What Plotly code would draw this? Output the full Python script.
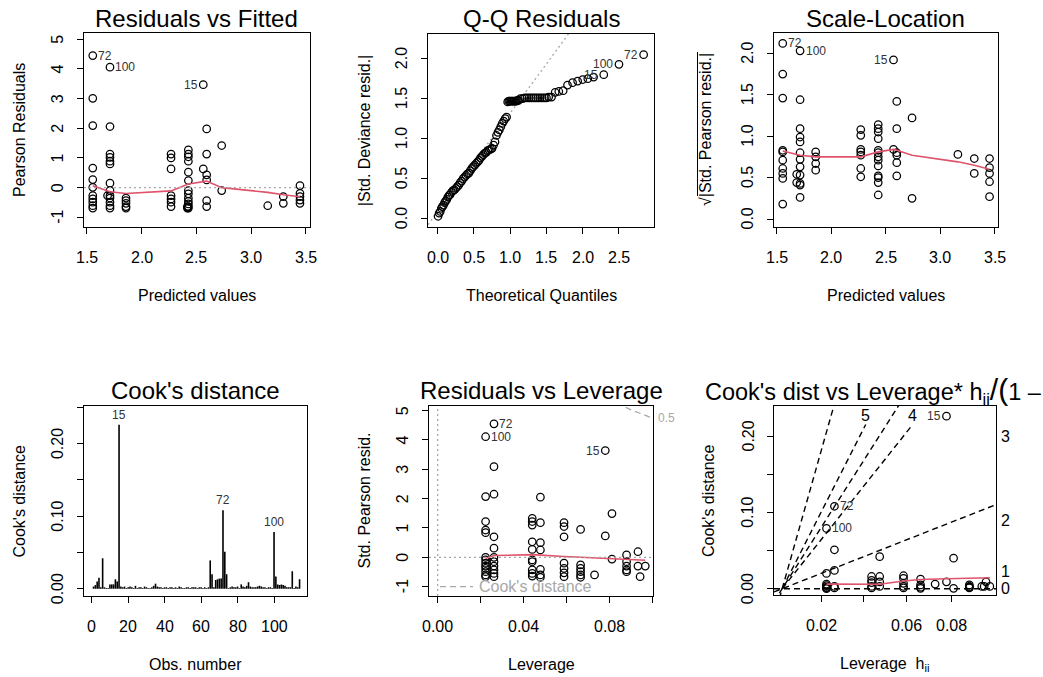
import numpy as np
import plotly.graph_objects as go

W, H = 1043, 677
FONT = "Liberation Sans, Arial, Helvetica, sans-serif"
RED = "#DF536B"
GREY = "#A8A8A8"
LBL = "#333333"

# ------------------------------------------------------------------ data
# Panel 1: Residuals vs Fitted
p1_fitted = [1.555, 1.555, 1.555, 1.555, 1.555, 1.555, 1.555, 1.555, 1.555, 1.555, 1.555,
             1.712, 1.712, 1.712, 1.712, 1.712, 1.712, 1.712, 1.712, 1.712, 1.712, 1.712, 1.712, 1.712,
             1.690,
             1.858, 1.858, 1.858, 1.858, 1.858,
             2.269, 2.269, 2.269, 2.269, 2.269, 2.269, 2.269,
             2.427, 2.427, 2.427, 2.427, 2.427, 2.427, 2.427, 2.427, 2.427, 2.427, 2.427, 2.427, 2.427,
             2.418, 2.418,
             2.563, 2.563,
             2.594, 2.594, 2.594, 2.594, 2.594, 2.594,
             2.731, 2.731,
             3.151,
             3.293, 3.293,
             3.445, 3.445, 3.445, 3.445, 3.445]
p1_resid = [4.45, 3.01, 2.09, 0.66, 0.27, 0.01, -0.27, -0.38, -0.49, -0.61, -0.69,
            4.06, 2.06, 1.13, 1.02, 0.89, 0.80, 0.15, -0.10, -0.27, -0.35, -0.49, -0.61, -0.69,
            -0.27,
            -0.35, -0.44, -0.53, -0.64, -0.69,
            1.13, 1.00, 0.63, -0.27, -0.38, -0.49, -0.64,
            1.27, 1.13, 1.04, 0.89, 0.52, 0.24, -0.10, -0.21, -0.35, -0.46, -0.55, -0.64, -0.69,
            -0.64, -0.69,
            3.47, 0.63,
            1.98, 1.13, 0.43, 0.26, -0.44, -0.64,
            1.42, -0.10,
            -0.61,
            -0.30, -0.53,
            0.07, -0.19, -0.30, -0.42, -0.53]
p1_smooth_x = [1.555, 1.712, 1.858, 2.269, 2.427, 2.563, 2.594, 2.731, 3.151, 3.293, 3.445]
p1_smooth_y = [0.06, -0.14, -0.20, -0.11, 0.12, 0.22, 0.22, 0.00, -0.16, -0.24, -0.31]
p1_lab = ["72", "100", "15"]
p1_lab_x = [1.555, 1.712, 2.563]
p1_lab_y = [4.45, 4.06, 3.47]

# Panel 2: Q-Q Residuals (half-normal)
p2_theo = [0.005, 0.02, 0.035, 0.05, 0.065, 0.08, 0.095, 0.11, 0.125, 0.14, 0.155, 0.17,
           0.19, 0.21, 0.23, 0.25, 0.27, 0.29, 0.31, 0.33, 0.35, 0.37, 0.39, 0.41, 0.43, 0.45,
           0.47, 0.49, 0.51, 0.53, 0.55, 0.57, 0.59, 0.61, 0.63, 0.65, 0.67, 0.69, 0.71, 0.73,
           0.75, 0.77, 0.79, 0.81, 0.83, 0.85, 0.87, 0.89, 0.91, 0.93, 0.95,
           0.965, 0.98, 0.995, 1.01, 1.025, 1.04, 1.055, 1.07, 1.085, 1.10, 1.115,
           1.14, 1.17, 1.20, 1.23, 1.26, 1.29, 1.32, 1.35, 1.38, 1.41, 1.44, 1.47, 1.50, 1.53, 1.57,
           1.62, 1.67, 1.73, 1.79, 1.86, 1.93, 2.00, 2.07, 2.15, 2.29, 2.50, 2.84]
p2_absres = [0.03, 0.07, 0.09, 0.13, 0.15, 0.17, 0.20, 0.22, 0.24, 0.27, 0.29, 0.30,
             0.33, 0.35, 0.36, 0.38, 0.40, 0.42, 0.45, 0.47, 0.50, 0.52, 0.54, 0.56, 0.57, 0.60,
             0.63, 0.65, 0.67, 0.69, 0.71, 0.73, 0.76, 0.78, 0.80, 0.82, 0.83, 0.85, 0.86, 0.87,
             0.88, 0.92, 0.96, 1.04, 1.08, 1.11, 1.15, 1.19, 1.22, 1.25, 1.27,
             1.46, 1.47, 1.47, 1.47, 1.47, 1.47, 1.47, 1.47, 1.47, 1.48, 1.48,
             1.50, 1.50, 1.51, 1.51, 1.51, 1.51, 1.51, 1.51, 1.51, 1.51, 1.51, 1.51, 1.51, 1.52, 1.52,
             1.58, 1.59, 1.60, 1.67, 1.70, 1.72, 1.74, 1.75, 1.77, 1.80, 1.93, 2.05]
p2_qq_intercept = 0.09
p2_qq_slope = 1.23
p2_lab = ["72", "100", "15"]
p2_lab_x = [2.84, 2.50, 2.29]
p2_lab_y = [2.05, 1.93, 1.80]

# Panel 3: Scale-Location
p3_fitted = [1.555, 1.555, 1.555, 1.555, 1.555, 1.555, 1.555, 1.555, 1.555, 1.555,
             1.714, 1.714, 1.714, 1.714, 1.714, 1.714, 1.714, 1.714, 1.714, 1.714, 1.714, 1.714,
             1.683, 1.683,
             1.857, 1.857, 1.857, 1.857,
             2.270, 2.270, 2.270, 2.270, 2.270, 2.270, 2.270,
             2.430, 2.430, 2.430, 2.430, 2.430, 2.430, 2.430, 2.430, 2.430, 2.430, 2.430, 2.430, 2.430,
             2.570, 2.570,
             2.600, 2.600, 2.600, 2.600, 2.600, 2.600,
             2.740, 2.740,
             3.160,
             3.310, 3.310,
             3.450, 3.450, 3.450, 3.450, 3.450]
p3_sqrtres = [2.12, 1.75, 1.46, 0.83, 0.81, 0.71, 0.61, 0.55, 0.49, 0.18,
              2.03, 1.44, 1.09, 0.99, 0.93, 0.80, 0.72, 0.63, 0.53, 0.43, 0.41, 0.26,
              0.54, 0.44,
              0.81, 0.75, 0.67, 0.59,
              1.08, 1.01, 0.84, 0.81, 0.77, 0.61, 0.51,
              1.14, 1.09, 1.05, 0.97, 0.83, 0.80, 0.75, 0.71, 0.64, 0.52, 0.50, 0.44, 0.29,
              1.92, 0.84,
              1.42, 1.09, 0.80, 0.77, 0.68, 0.52,
              1.22, 0.25,
              0.78,
              0.73, 0.55,
              0.73, 0.62, 0.55, 0.45, 0.27]
p3_smooth_x = [1.555, 1.714, 1.857, 2.270, 2.430, 2.570, 2.600, 2.740, 3.160, 3.310, 3.450]
p3_smooth_y = [0.82, 0.77, 0.75, 0.75, 0.81, 0.84, 0.83, 0.77, 0.69, 0.65, 0.60]
p3_lab = ["72", "100", "15"]
p3_lab_x = [1.555, 1.714, 2.570]
p3_lab_y = [2.12, 2.03, 1.92]

# Panel 4: Cook's distance by observation
p4_obs = list(range(1, 115))
p4_cook = [0.003, 0.005, 0.010, 0.015, 0.002, 0.042, 0.002, 0.001, 0.001, 0.006,
           0.006, 0.006, 0.013, 0.010, 0.226, 0.003, 0.002, 0.003, 0.001, 0.002,
           0.003, 0.002, 0.001, 0.004, 0.001, 0.002, 0.002, 0.001, 0.003, 0.002,
           0.001, 0.001, 0.002, 0.004, 0.007, 0.003, 0.002, 0.002, 0.001, 0.002,
           0.002, 0.001, 0.002, 0.002, 0.001, 0.002, 0.001, 0.003, 0.002, 0.001,
           0.001, 0.002, 0.002, 0.001, 0.002, 0.002, 0.002, 0.001, 0.002, 0.002,
           0.001, 0.002, 0.001, 0.002, 0.039, 0.020, 0.002, 0.012, 0.013, 0.014,
           0.014, 0.108, 0.051, 0.020, 0.001, 0.002, 0.003, 0.002, 0.002, 0.003,
           0.001, 0.006, 0.003, 0.002, 0.004, 0.009, 0.003, 0.002, 0.002, 0.002,
           0.003, 0.004, 0.003, 0.002, 0.002, 0.001, 0.002, 0.002, 0.001, 0.078,
           0.017, 0.006, 0.005, 0.006, 0.005, 0.004, 0.002, 0.002, 0.002, 0.024,
           0.001, 0.003, 0.002, 0.013]
p4_lab = ["15", "72", "100"]
p4_lab_x = [15, 72, 100]
p4_lab_y = [0.226, 0.108, 0.078]

# Panel 5: Residuals vs Leverage
p5_lev = [0.0223, 0.0223, 0.0223, 0.0223, 0.0223, 0.0223, 0.0223, 0.0223, 0.0223,
          0.0223, 0.0223, 0.0223, 0.0223,
          0.0262, 0.0262, 0.0262, 0.0262, 0.0262, 0.0262, 0.0262, 0.0262, 0.0262, 0.0262, 0.0262,
          0.0440, 0.0440, 0.0440, 0.0440, 0.0440, 0.0440, 0.0440, 0.0440, 0.0440, 0.0440,
          0.0478, 0.0478, 0.0478, 0.0478, 0.0478, 0.0478, 0.0478,
          0.0588, 0.0588, 0.0588, 0.0588, 0.0588, 0.0588, 0.0588,
          0.0665, 0.0665, 0.0665, 0.0665, 0.0665, 0.0665,
          0.0730,
          0.0780, 0.0780,
          0.0811, 0.0811,
          0.0879, 0.0879, 0.0879, 0.0879, 0.0879,
          0.0932, 0.0932,
          0.0942,
          0.0966]
p5_stdres = [4.11, 2.07, 1.22, 0.93, 0.84, 0.00, -0.09, -0.20, -0.30, -0.38, -0.49, -0.60, -0.66,
             4.55, 3.09, 2.15, 0.70, 0.31, 0.00, -0.15, -0.30, -0.43, -0.55, -0.66,
             1.33, 1.22, 1.10, 0.53, 0.27, -0.09, -0.15, -0.43, -0.55, -0.64,
             2.05, 1.18, 0.50, 0.25, -0.41, -0.60, -0.68,
             1.18, 1.05, 0.70, -0.20, -0.38, -0.53, -0.66,
             0.95, -0.26, -0.38, -0.49, -0.60, -0.68,
             -0.60,
             3.64, 0.73,
             1.49, -0.06,
             0.08, -0.15, -0.30, -0.43, -0.49,
             0.19, -0.30,
             -0.66,
             -0.30]
p5_smooth_x = [0.0223, 0.0262, 0.0440, 0.0478, 0.0588, 0.0665, 0.0780, 0.0879, 0.0966]
p5_smooth_y = [-0.04, 0.06, 0.09, 0.08, 0.03, 0.00, -0.03, -0.06, -0.10]
p5_cook_level = 0.5
p5_rank = 5
p5_lab = ["72", "100", "15"]
p5_lab_x = [0.0262, 0.0223, 0.0780]
p5_lab_y = [4.55, 4.11, 3.64]

# Panel 6: Cook's dist vs Leverage h/(1-h)
p6_lev = [0.0223, 0.0223, 0.0223, 0.0223, 0.0223, 0.0223, 0.0223,
          0.0262, 0.0262, 0.0262, 0.0262, 0.0262,
          0.0440, 0.0440, 0.0440, 0.0440, 0.0440,
          0.0478, 0.0478, 0.0478, 0.0478,
          0.0588, 0.0588, 0.0588, 0.0588, 0.0588,
          0.0665, 0.0665, 0.0665, 0.0665,
          0.0730,
          0.0780, 0.0780,
          0.0811, 0.0811,
          0.0879, 0.0879, 0.0879, 0.0879,
          0.0932, 0.0950,
          0.0942,
          0.0966]
p6_cook = [0.079, 0.020, 0.006, 0.004, 0.002, 0.001, 0.000,
           0.108, 0.051, 0.024, 0.003, 0.001,
           0.016, 0.011, 0.008, 0.003, 0.001,
           0.042, 0.016, 0.009, 0.003,
           0.017, 0.0135, 0.007, 0.003, 0.001,
           0.0125, 0.005, 0.002, 0.0005,
           0.006,
           0.226, 0.009,
           0.040, 0.0005,
           0.003, 0.005, 0.002, 0.001,
           0.003, 0.009,
           0.003,
           0.003]
p6_smooth_lev = [0.0223, 0.0262, 0.0440, 0.0478, 0.0588, 0.0665, 0.0780, 0.0879, 0.0966]
p6_smooth_cook = [0.006, 0.006, 0.0055, 0.0058, 0.010, 0.012, 0.013, 0.0138, 0.0144]
p6_contours = [0, 1, 2, 3, 4, 5]
p6_rank = 5
p6_axis_lev = [0.02, 0.04, 0.06, 0.08]
p6_axis_text = ["0.02", "", "0.06", "0.08"]
p6_lab = ["15", "72", "100"]
p6_lab_lev = [0.0780, 0.0262, 0.0223]
p6_lab_cook = [0.226, 0.108, 0.079]

# ------------------------------------------------------------------ layout helpers
def fx(px):
    return px / W


def fy(py):
    return 1 - py / H


def a(n):
    return "" if n == 1 else str(n)


BOX = {1: (84, 309.5, 33, 227), 2: (428, 654, 33.5, 227), 3: (774, 997.5, 33, 227),
       4: (84, 306.5, 406, 596), 5: (429, 653, 406, 596), 6: (774, 996, 406, 595)}
XR = {1: [1.475, 3.532], 2: [-0.134, 2.983], 3: [1.475, 3.523],
      4: [-4.22, 117.8], 5: [-0.00404, 0.1002], 6: [-0.00422, 0.1101]}
YR = {1: [-1.327, 5.212], 2: [-0.104, 2.315], 3: [-0.0966, 2.2455],
      4: [-0.010, 0.2517], 5: [-1.319, 5.158], 6: [-0.00825, 0.2393]}

g = lambda h: h / (1 - h)
XT = {1: ([1.5, 2.0, 2.5, 3.0, 3.5], ["1.5", "2.0", "2.5", "3.0", "3.5"]),
      2: ([0, 0.5, 1, 1.5, 2, 2.5], ["0.0", "0.5", "1.0", "1.5", "2.0", "2.5"]),
      3: ([1.5, 2.0, 2.5, 3.0, 3.5], ["1.5", "2.0", "2.5", "3.0", "3.5"]),
      4: ([0, 20, 40, 60, 80, 100], ["0", "20", "40", "60", "80", "100"]),
      5: ([0, 0.02, 0.04, 0.06, 0.08, 0.10], ["0.00", "", "0.04", "", "0.08", ""]),
      6: ([g(h) for h in p6_axis_lev], p6_axis_text)}
YT = {1: ([-1, 0, 1, 2, 3, 4, 5], ["-1", "0", "1", "2", "3", "4", "5"]),
      2: ([0, 0.5, 1, 1.5, 2], ["0.0", "0.5", "1.0", "1.5", "2.0"]),
      3: ([0, 0.5, 1, 1.5, 2], ["0.0", "0.5", "1.0", "1.5", "2.0"]),
      4: ([0, 0.05, 0.10, 0.15, 0.20, 0.25], ["0.00", "", "0.10", "", "0.20", ""]),
      5: ([-1, 0, 1, 2, 3, 4, 5], ["-1", "0", "1", "2", "3", "4", "5"]),
      6: ([0, 0.05, 0.10, 0.15, 0.20], ["0.00", "", "0.10", "", "0.20"])}

fig = go.Figure()
ann = []
shapes = []


def text(x, y, s, size=16, xref="paper", yref="paper", xanchor="center", yanchor="middle",
         angle=0, color="black", xshift=0, yshift=0):
    ann.append(dict(x=x, y=y, text=s, xref=xref, yref=yref, showarrow=False,
                    xanchor=xanchor, yanchor=yanchor, textangle=angle,
                    font=dict(family=FONT, size=size, color=color),
                    xshift=xshift, yshift=yshift))


def pts(n, x, y):
    fig.add_trace(go.Scatter(x=x, y=y, mode="markers", xaxis="x" + a(n), yaxis="y" + a(n),
                             marker=dict(symbol="circle-open", size=7.5, color="black",
                                         line=dict(width=1.25, color="black")),
                             hoverinfo="skip"))


def line(n, x, y, color="black", width=1.0, dash="solid"):
    fig.add_trace(go.Scatter(x=x, y=y, mode="lines", xaxis="x" + a(n), yaxis="y" + a(n),
                             line=dict(color=color, width=width, dash=dash),
                             hoverinfo="skip"))


def hline(n, y, color=GREY, dash="2px,3px", width=1.3):
    shapes.append(dict(type="line", xref="x" + a(n) + " domain", yref="y" + a(n),
                       x0=0, x1=1, y0=y, y1=y, line=dict(color=color, width=width, dash=dash)))


def vline(n, x, color=GREY, dash="2px,3px", width=1.3):
    shapes.append(dict(type="line", yref="y" + a(n) + " domain", xref="x" + a(n),
                       y0=0, y1=1, x0=x, x1=x, line=dict(color=color, width=width, dash=dash)))


def labels(n, labs, xs, ys, sides):
    for s, x, y, side in zip(labs, xs, ys, sides):
        if side == "right":
            text(x, y, s, size=12, xref="x" + a(n), yref="y" + a(n), xanchor="left",
                 xshift=3.5, color=LBL)
        elif side == "left":
            text(x, y, s, size=12, xref="x" + a(n), yref="y" + a(n), xanchor="right",
                 xshift=-3.5, color=LBL)
        else:
            text(x, y, s, size=12, xref="x" + a(n), yref="y" + a(n), yanchor="bottom",
                 yshift=1, color=LBL)


DASH = "6px,4px"

# ---- panel 1
hline(1, 0)
pts(1, p1_fitted, p1_resid)
line(1, p1_smooth_x, p1_smooth_y, RED, 1.6)
labels(1, p1_lab, p1_lab_x, p1_lab_y, ["right", "right", "left"])

# ---- panel 2
qx = [XR[2][0], XR[2][1]]
line(2, qx, [p2_qq_intercept + p2_qq_slope * v for v in qx], GREY, 1.3, "2px,3px")
pts(2, p2_theo, p2_absres)
labels(2, p2_lab, p2_lab_x, p2_lab_y, ["left", "left", "left"])

# ---- panel 3
pts(3, p3_fitted, p3_sqrtres)
line(3, p3_smooth_x, p3_smooth_y, RED, 1.6)
labels(3, p3_lab, p3_lab_x, p3_lab_y, ["right", "right", "left"])

# ---- panel 4
bx, by = [], []
for o, c in zip(p4_obs, p4_cook):
    bx += [o, o, None]
    by += [0, c, None]
line(4, bx, by, "black", 1.6)
labels(4, p4_lab, p4_lab_x, p4_lab_y, ["top", "top", "top"])

# ---- panel 5
hline(5, 0)
vline(5, 0)
hh = np.linspace(0.002, XR[5][1], 300)
line(5, hh, np.sqrt(p5_cook_level * p5_rank * (1 - hh) / hh), GREY, 1.3, DASH)
pts(5, p5_lev, p5_stdres)
line(5, p5_smooth_x, p5_smooth_y, RED, 1.6)
labels(5, p5_lab, p5_lab_x, p5_lab_y, ["right", "right", "left"])
xe = XR[5][1]
text(xe, float(np.sqrt(p5_cook_level * p5_rank * (1 - xe) / xe)), "0.5", size=12,
     xref="x5", yref="y5", xanchor="left", xshift=3, color=GREY)
shapes.append(dict(type="line", xref="paper", yref="paper", x0=fx(440), x1=fx(473),
                   y0=fy(586.7), y1=fy(586.7), line=dict(color=GREY, width=1.3, dash=DASH)))
text(fx(476.5), fy(586.7), "Cook's distance", size=16, xanchor="left", color=GREY)

# ---- panel 6
xmin6, xmax6 = XR[6]
ymax6 = YR[6][1]
strh = 0.0162
for b in p6_contours:
    b2 = b * b
    if p6_rank * ymax6 > b2 * xmax6:
        line(6, [xmin6, xmax6], [b2 * xmin6, b2 * xmax6], "black", 1.4, DASH)
        xi = xmax6 + 0.0008
        text(xmax6, b2 * xi / p6_rank, str(b), size=16, xref="x6", yref="y6",
             xanchor="left", xshift=3)
    else:
        yi = ymax6 - 1.5 * strh
        xi = p6_rank * yi / b2
        line(6, [0, xi], [0, yi], "black", 1.4, DASH)
        text(xi, ymax6 - 0.8 * strh, str(b), size=16, xref="x6", yref="y6")
pts(6, [g(h) for h in p6_lev], p6_cook)
line(6, [g(h) for h in p6_smooth_lev], p6_smooth_cook, RED, 1.6)
labels(6, p6_lab, [g(h) for h in p6_lab_lev], p6_lab_cook, ["left", "right", "right"])

# ---- titles, axis titles, tick labels
titles = {1: "Residuals vs Fitted", 2: "Q-Q Residuals", 3: "Scale-Location",
          4: "Cook's distance", 5: "Residuals vs Leverage"}
for n, t in titles.items():
    x0, x1, y0, y1 = BOX[n]
    text(fx((x0 + x1) / 2), fy(19 if n <= 3 else 390), t, size=24)
text(fx(703), fy(390),
     "Cook's dist vs Leverage* h<sub>ii</sub><span style='font-size:30px'>/(</span>1 \u2013 h<sub>ii</sub>)",
     size=23.5, xanchor="left")

xtitles = {1: "Predicted values", 2: "Theoretical Quantiles", 3: "Predicted values",
           4: "Obs. number", 5: "Leverage", 6: "Leverage  h<sub>ii</sub>"}
ytitles = {1: "Pearson Residuals", 2: "|Std. Deviance resid.|",
           3: "\u221a|Std. Pearson resid.|", 4: "Cook's distance",
           5: "Std. Pearson resid.", 6: "Cook's distance"}
ytitle_x = {1: 19, 2: 364, 3: 705, 4: 18.5, 5: 363.5, 6: 708.5}
for n in range(1, 7):
    x0, x1, y0, y1 = BOX[n]
    text(fx((x0 + x1) / 2), fy(296 if n <= 3 else 664), xtitles[n], size=16)
    text(fx(ytitle_x[n]), fy((y0 + y1) / 2), ytitles[n], size=16, angle=-90)
    for v, s in zip(*XT[n]):
        if s:
            text(v, fy(y1 + 30.5), s, size=16, xref="x" + a(n))
    for v, s in zip(*YT[n]):
        if s:
            text(fx(x0 - 26.5), v, s, size=16, yref="y" + a(n), angle=-90)

# radical bar over the Scale-Location y label
shapes.append(dict(type="line", xref="paper", yref="paper", x0=fx(697.5), x1=fx(697.5),
                   y0=fy(196), y1=fy(52), line=dict(color="black", width=1)))

layout = dict(width=W, height=H, margin=dict(l=0, r=0, t=0, b=0), showlegend=False,
              paper_bgcolor="white", plot_bgcolor="white",
              font=dict(family=FONT, size=16, color="black"),
              annotations=ann, shapes=shapes)
for n in range(1, 7):
    x0, x1, y0, y1 = BOX[n]
    common = dict(ticks="outside", ticklen=6, tickwidth=1, tickcolor="black",
                  showline=True, mirror=True, linecolor="black", linewidth=1.2,
                  showgrid=False, zeroline=False, showticklabels=False, fixedrange=True)
    layout["xaxis" + a(n)] = dict(domain=[fx(x0), fx(x1)], range=XR[n], anchor="y" + a(n),
                                  tickvals=XT[n][0], **common)
    layout["yaxis" + a(n)] = dict(domain=[fy(y1), fy(y0)], range=YR[n], anchor="x" + a(n),
                                  tickvals=YT[n][0], **common)
fig.update_layout(**layout)

fig.write_html("out.html", post_script="document.body.style.margin='0';")
